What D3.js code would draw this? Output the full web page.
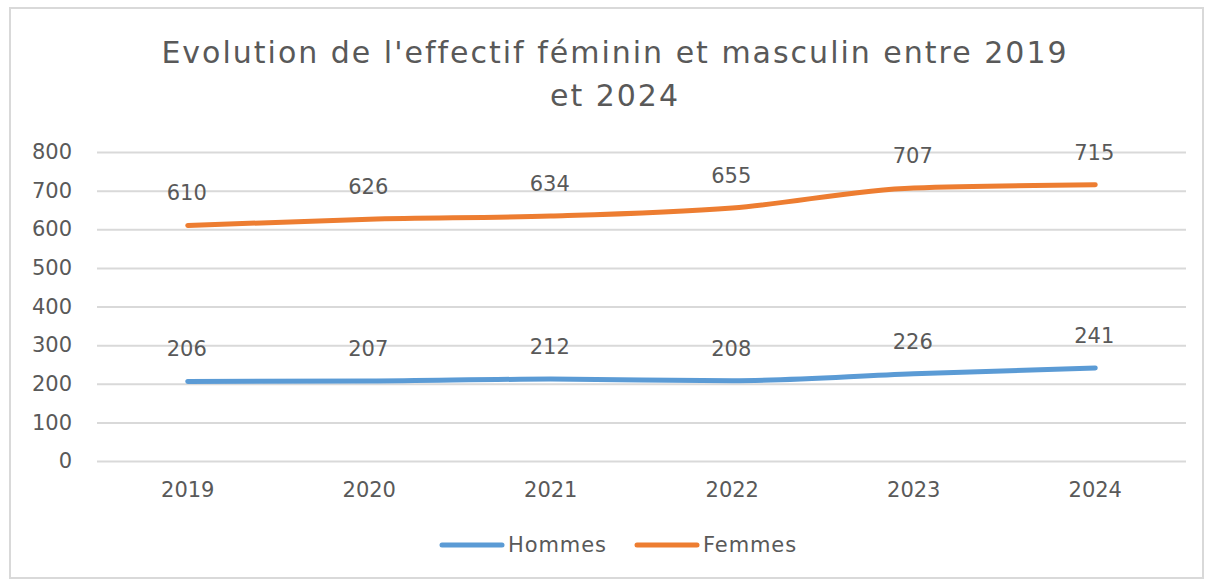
<!DOCTYPE html>
<html><head><meta charset="utf-8">
<script src="https://cdn.jsdelivr.net/npm/d3@7"></script>
<style>body{margin:0;background:#fff}svg{display:block}</style>
</head><body>
<svg id="c" width="1214" height="581"></svg>
<script>
const years = ["2019","2020","2021","2022","2023","2024"];
const hommes = [206,207,212,208,226,241];
const femmes = [610,626,634,655,707,715];
const yTicks = [0,100,200,300,400,500,600,700,800];
const titleLines = ["Evolution de l'effectif féminin et masculin entre 2019","et 2024"];
const seriesNames = ["Hommes","Femmes"];
const colors = ["#5B9BD5","#ED7D31"];

const svg = d3.select("#c");
const font = "'DejaVu Sans', sans-serif";
const txt = "#595959";

svg.append("rect").attr("x",10).attr("y",8).attr("width",1193).attr("height",570)
  .attr("fill","#fff").attr("stroke","#d9d9d9").attr("stroke-width",2);

svg.selectAll("text.title").data(titleLines).join("text")
  .attr("x",615).attr("y",(d,i)=>63+i*43).attr("text-anchor","middle")
  .attr("font-family",font).attr("font-size",30).attr("letter-spacing",2).attr("fill",txt).text(d=>d);

const x = d3.scaleBand().domain(years).range([97,1186]);
const y = d3.scaleLinear().domain([0,800]).range([461,152]);

const gy = svg.append("g").attr("transform","translate(97,0)")
  .call(d3.axisLeft(y).tickValues(yTicks).tickSize(-1089).tickPadding(25));
gy.select(".domain").remove();
gy.selectAll(".tick line").attr("stroke","#d9d9d9").attr("stroke-width",2);
gy.selectAll(".tick text").attr("font-family",font).attr("font-size",21).attr("fill",txt);

const gx = svg.append("g").attr("transform","translate(0,461)")
  .call(d3.axisBottom(x).tickSize(0).tickPadding(21));
gx.select(".domain").remove();
gx.selectAll(".tick text").attr("font-family",font).attr("font-size",21).attr("fill",txt);

const series = [hommes, femmes];
const line = d3.line().x((d,i)=>x(years[i])+x.bandwidth()/2).y(d=>y(d)).curve(d3.curveMonotoneX);
series.forEach((s,k)=>{
  svg.append("path").datum(s).attr("d",line).attr("fill","none")
    .attr("stroke",colors[k]).attr("stroke-width",5).attr("stroke-linecap","round").attr("stroke-linejoin","round");
  svg.selectAll("text.lbl"+k).data(s).join("text")
    .attr("x",(d,i)=>x(years[i])+x.bandwidth()/2-1).attr("y",d=>y(d)-25)
    .attr("text-anchor","middle").attr("font-family",font).attr("font-size",21).attr("fill",txt)
    .text(d=>d);
});

const legX = [440,635];
seriesNames.forEach((n,k)=>{
  svg.append("line").attr("x1",legX[k]+2).attr("x2",legX[k]+62).attr("y1",545).attr("y2",545)
    .attr("stroke",colors[k]).attr("stroke-width",5).attr("stroke-linecap","round");
  svg.append("text").attr("x",legX[k]+68).attr("y",552).attr("font-family",font)
    .attr("font-size",21).attr("letter-spacing",0.9).attr("fill",txt).text(n);
});
</script>
</body></html>
